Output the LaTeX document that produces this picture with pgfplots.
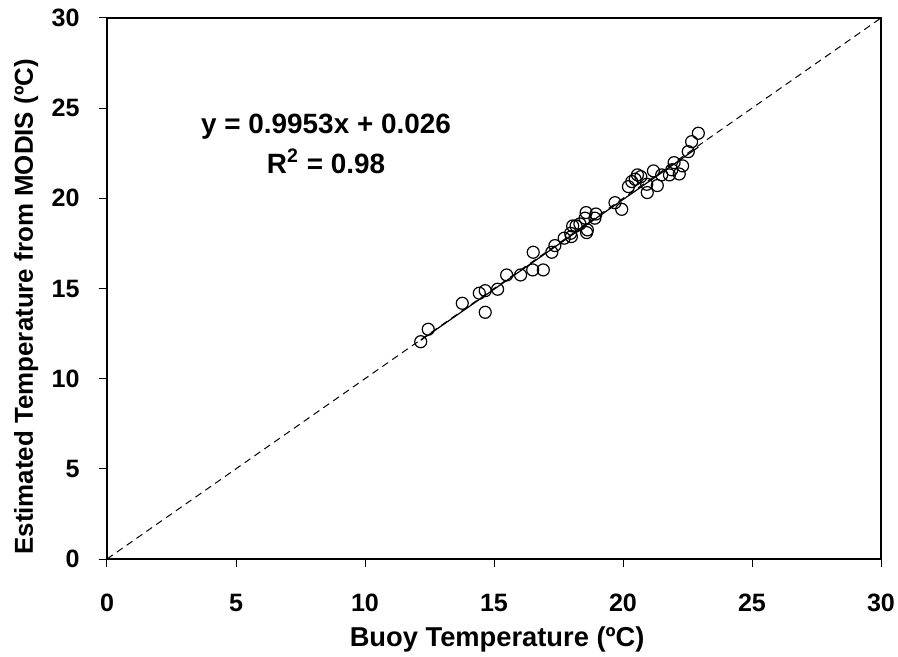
\documentclass[border=0pt]{standalone}
\usepackage{fontspec}
\setmainfont{Liberation Sans}
\usepackage{pgfplots}
\pgfplotsset{compat=1.18}
\usetikzlibrary{calc}

\begin{document}
\begin{tikzpicture}
  \begin{axis}[
      name=ax,
      scale only axis,
      width=387bp, height=270.5bp,
      xmin=0, xmax=30, ymin=0, ymax=30,
      xtick={0,5,...,30}, ytick={0,5,...,30},
      xtick pos=bottom, ytick pos=left,
      tick align=outside,
      major tick length=4bp,
      axis line style={line width=1.2pt},
      tick style={black, line width=0.5pt},
      /pgf/number format/assume math mode=true,
      ticklabel style={font=\fontsize{12.6}{14}\selectfont\bfseries},
      xticklabel style={yshift=-10bp},
      yticklabel style={xshift=-6.2bp},
      xlabel={Buoy Temperature (ºC)},
      ylabel={Estimated Temperature from MODIS (ºC)},
      every axis x label/.style={at={(axis description cs:0.504,0)}, yshift=-43.8bp, anchor=base, font=\fontsize{13.7}{16}\selectfont\bfseries},
      every axis y label/.style={at={(axis description cs:0,0.466)}, xshift=-37bp, rotate=90, anchor=base, font=\fontsize{13}{16}\selectfont\bfseries},
      clip=false,
    ]
    % 1:1 line
    \addplot[black, line width=0.5pt, dash pattern=on 3.5bp off 2.5bp] coordinates {(0,0) (30,30)};
    % linear fit y = 0.9953x + 0.026
    \addplot[black, line width=0.6pt] coordinates {(12.16,12.129) (22.92,22.838)};
    % buoy vs MODIS
    \addplot[only marks, mark=o, mark size=3bp, mark options={black, line width=0.6pt}] coordinates {
      (12.16,12.05) (12.45,12.74) (13.77,14.18) (14.43,14.74) (14.66,14.88)
      (14.66,13.68) (15.14,14.96) (15.49,15.75) (16.03,15.75) (16.50,16.03)
      (16.52,17.01) (16.91,16.03) (17.24,17.01) (17.36,17.38) (17.72,17.79)
      (17.97,18.06) (18.00,17.88) (18.05,18.47) (18.18,18.47) (18.33,18.58)
      (18.53,18.90) (18.57,19.21) (18.62,18.25) (18.59,18.10) (18.95,19.13)
      (18.91,18.90) (19.69,19.76) (19.95,19.39) (20.21,20.65) (20.34,20.93)
      (20.47,21.06) (20.56,21.30) (20.69,21.20) (20.92,20.78) (20.94,20.32)
      (21.18,21.52) (21.33,20.71) (21.50,21.30) (21.80,21.30) (21.89,21.58)
      (21.98,21.98) (22.18,21.35) (22.31,21.80) (22.53,22.59) (22.66,23.14)
      (22.92,23.61)
    };
    \node[anchor=base, font=\fontsize{14}{16}\selectfont\bfseries] at (axis cs:8.49,23.61) {y = 0.9953x + 0.026};
    \node[anchor=base, font=\fontsize{14}{16}\selectfont\bfseries] at (axis cs:8.49,21.39) {R\textsuperscript{2} = 0.98};
  \end{axis}
  \pgfresetboundingbox
  \path ($(ax.south west)+(-53.5bp,-49bp)$) rectangle ($(ax.north east)+(8.5bp,9bp)$);
\end{tikzpicture}
\end{document}
